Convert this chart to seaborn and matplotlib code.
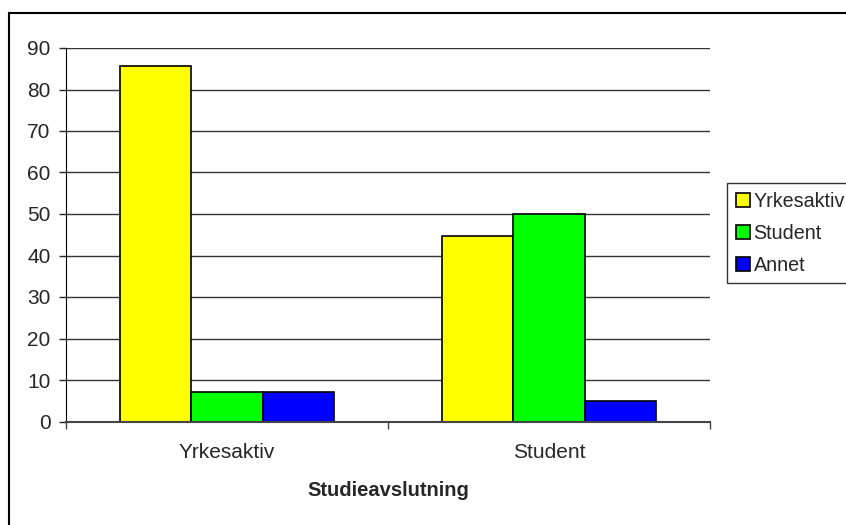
import pandas as pd
import numpy as np
import matplotlib
matplotlib.use('Agg')
import matplotlib.pyplot as plt
import seaborn as sns
from matplotlib.patches import Rectangle

sns.set_style('white')
plt.rcParams['font.family'] = ['Liberation Sans', 'DejaVu Sans']

# data
categories = ['Yrkesaktiv', 'Student']
series = ['Yrkesaktiv', 'Student', 'Annet']
yrkesaktiv = [85.7, 44.8]
student = [7.1, 50.0]
annet = [7.1, 5.0]
colors = ['#FFFF00', '#00FF00', '#0000FF']

df = pd.DataFrame({
    'kategori': categories * 3,
    'serie': [s for s in series for _ in categories],
    'verdi': yrkesaktiv + student + annet,
})

fig = plt.figure(figsize=(8.46, 5.25), dpi=100)
ax = fig.add_axes([66/846, 1 - 421.5/525, (710 - 66)/846, (421.5 - 48)/525])

sns.barplot(data=df, x='kategori', y='verdi', hue='serie', order=categories,
            hue_order=series, palette=colors, width=0.667, edgecolor='black',
            linewidth=1.2, saturation=1, ax=ax)

ax.set_ylim(0, 90)
ax.set_yticks(np.arange(0, 91, 10))
ax.set_xlim(-0.5, 1.5)
ax.yaxis.grid(True, color='#333333', linewidth=1)
ax.set_axisbelow(True)
for s in ['top', 'right']:
    ax.spines[s].set_visible(False)
ax.spines['left'].set_color('black')
ax.spines['bottom'].set_color('#444444')
ax.spines['bottom'].set_linewidth(1.5)

ax.tick_params(axis='y', left=True, length=5, width=1, labelsize=15, pad=6)
ax.set_xticks([0, 1])
ax.set_xticklabels(categories)
ax.tick_params(axis='x', which='major', bottom=False, labelsize=15, pad=12)
ax.set_xticks([-0.5, 0.5, 1.5], minor=True)
ax.tick_params(axis='x', which='minor', bottom=True, length=5, width=1, color='#444444')
ax.set_xlabel('Studieavslutning', fontsize=14.5, fontweight='bold', labelpad=14)
ax.set_ylabel('')

# legend sits on the right edge, like the original
handles, labels = ax.get_legend_handles_labels()
ax.legend_.remove()
leg = fig.legend(handles, labels, loc='upper left', bbox_to_anchor=(727/846, 1 - 183/525),
                 fontsize=14.2, frameon=True, fancybox=False, handlelength=0.7,
                 handleheight=0.7, handletextpad=0.2, labelspacing=0.65,
                 borderpad=0.45, borderaxespad=0)
leg.get_frame().set_edgecolor('black')
leg.get_frame().set_linewidth(1)

# chart border
fig.patches.append(Rectangle((9/846, -0.05), 1.0, 1 - 13/525 + 0.05, transform=fig.transFigure,
                             fill=False, edgecolor='black', linewidth=1.5))

fig.savefig('out.png', dpi=100)
